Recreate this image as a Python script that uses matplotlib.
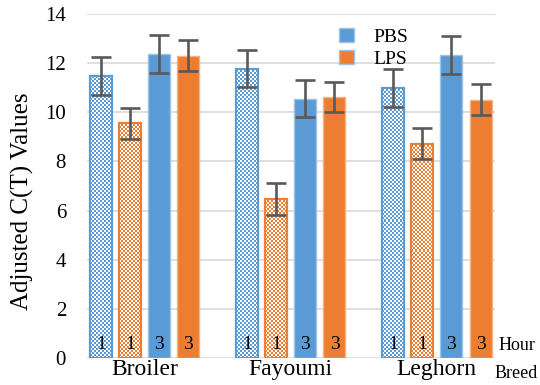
import numpy as np
import matplotlib.pyplot as plt
from matplotlib.patches import Patch
from matplotlib.colors import ListedColormap

plt.rcParams['font.family'] = ['Liberation Serif', 'DejaVu Serif']

breeds = ['Broiler', 'Fayoumi', 'Leghorn']
series = ['PBS 1h', 'LPS 1h', 'PBS 3h', 'LPS 3h']
hour_labels = ['1', '1', '3', '3']
values = {
    'PBS 1h': [11.47, 11.76, 11.0],
    'LPS 1h': [9.56, 6.47, 8.71],
    'PBS 3h': [12.37, 10.54, 12.31],
    'LPS 3h': [12.29, 10.62, 10.50],
}
errors = {
    'PBS 1h': [0.76, 0.75, 0.77],
    'LPS 1h': [0.63, 0.65, 0.63],
    'PBS 3h': [0.76, 0.75, 0.77],
    'LPS 3h': [0.63, 0.60, 0.63],
}

blue = '#5B9BD5'
orange = '#ED7D31'
colors = [blue, orange, blue, orange]
textured = [True, True, False, False]
offsets = [-0.30, -0.10, 0.10, 0.30]
width = 0.15

fig = plt.figure(figsize=(5.4, 3.85), dpi=100)
ax = fig.add_axes([0.161, 0.070, 0.756, 0.894])

x = np.arange(len(breeds))
for k, s in enumerate(series):
    pos = x + offsets[k]
    if textured[k]:
        bars = ax.bar(pos, values[s], width, color='white', edgecolor=colors[k],
                      linewidth=1.5, zorder=1.5)
        # checkerboard texture clipped to each bar
        cmap = ListedColormap(['white', colors[k]])
        for b in bars:
            bx, by = b.get_x(), b.get_y()
            bw, bh = b.get_width(), b.get_height()
            nx = 11
            ny = int(round(bh * 12.3))
            img = (np.add.outer(np.arange(ny), np.arange(nx)) % 2).astype(float)
            im = ax.imshow(img, cmap=cmap, extent=[bx, bx + bw, by, by + bh],
                           origin='lower', aspect='auto', interpolation='nearest',
                           zorder=1.6)
            im.set_clip_path(b)
        ax.bar(pos, values[s], width, color='none', edgecolor=colors[k],
               linewidth=1.5, zorder=2)
    else:
        edge = '#9DC3E6' if colors[k] == blue else '#F4B183'
        ax.bar(pos, values[s], width, color=colors[k], edgecolor=edge,
               linewidth=1.0, zorder=2)
    ax.errorbar(pos, values[s], yerr=errors[s], fmt='none', ecolor='#595959',
                elinewidth=1.9, capsize=7, capthick=1.9, zorder=5)
    for xi in pos:
        ax.text(xi, 0.2, hour_labels[k], ha='center', va='bottom', fontsize=14,
                zorder=6)

ax.set_ylim(0, 14)
ax.set_xlim(-0.394, 2.40)
ax.set_yticks(np.arange(0, 15, 2))
ax.yaxis.grid(True, color='#D9D9D9', linewidth=1.2, zorder=0)
ax.set_axisbelow(True)
for sp in ax.spines.values():
    sp.set_visible(False)
ax.tick_params(axis='y', length=0, labelsize=15, pad=15)
ax.tick_params(axis='x', length=0, labelsize=17, pad=1)
ax.set_xticks(x)
ax.set_xticklabels(breeds)
ax.set_ylabel('Adjusted C(T) Values', fontsize=18)
ax.yaxis.set_label_coords(-0.13, 0.455)

ax.text(1.008, 0.012, 'Hour', transform=ax.transAxes, fontsize=13,
        ha='left', va='bottom')
ax.text(0.998, -0.02, 'Breed', transform=ax.transAxes, fontsize=13,
        ha='left', va='top')

handles = [Patch(facecolor=blue, edgecolor='#9DC3E6'),
           Patch(facecolor=orange, edgecolor='#9DC3E6')]
ax.legend(handles, ['PBS', 'LPS'], loc='upper left', bbox_to_anchor=(0.575, 1.01),
          frameon=False, fontsize=14, handlelength=0.75, handleheight=0.75,
          handletextpad=1.0, labelspacing=0.2)

fig.savefig('out.png', dpi=100)
